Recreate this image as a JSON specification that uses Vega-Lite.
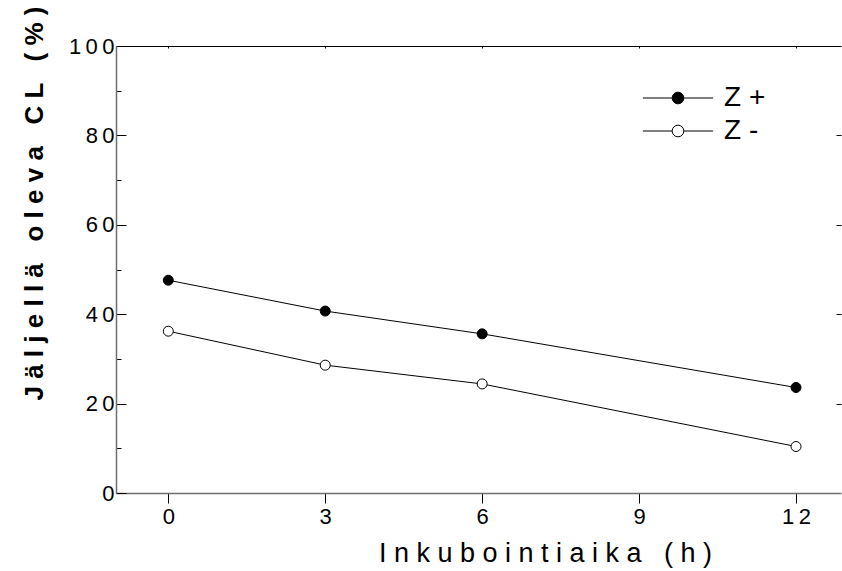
{
  "$schema": "https://vega.github.io/schema/vega-lite/v6.json",
  "width": 725,
  "height": 447,
  "autosize": "none",
  "padding": {"left": 116, "top": 46, "right": 1, "bottom": 78},
  "background": "white",
  "config": {"view": {"stroke": null}, "font": "Liberation Sans"},
  "data": {"values": [
    {"series": "Z +", "t": 0, "cl": 47.6},
    {"series": "Z +", "t": 3, "cl": 40.7},
    {"series": "Z +", "t": 6, "cl": 35.6},
    {"series": "Z +", "t": 12, "cl": 23.6},
    {"series": "Z -", "t": 0, "cl": 36.2},
    {"series": "Z -", "t": 3, "cl": 28.6},
    {"series": "Z -", "t": 6, "cl": 24.4},
    {"series": "Z -", "t": 12, "cl": 10.4}
  ]},
  "layer": [
    {
      "mark": {"type": "line", "color": "black", "strokeWidth": 1},
      "encoding": {
        "x": {"field": "t", "type": "quantitative",
          "scale": {"domain": [-1, 12.86], "nice": false, "zero": false},
          "axis": {"orient": "bottom", "values": [0, 3, 6, 9, 12], "grid": false,
            "title": "I n k u b o i n t i a i k a \u00a0 ( h )",
            "titleFontSize": 27, "titleFontWeight": "normal", "titleColor": "black",
            "titleX": 429, "titleY": 68, "titleAlign": "center", "titleBaseline": "alphabetic", "titleAngle": 0,
            "labelFontSize": 22, "labelColor": "black", "labelPadding": 3,
            "labelExpr": "replace(datum.label, /(\\d)(?=\\d)/g, '$1\u2009')",
            "labelFlush": false, "labelOverlap": false,
            "tickSize": 10, "tickColor": "black", "tickWidth": 1,
            "domainColor": "#6e6e6e", "domainWidth": 1.5}},
        "y": {"field": "cl", "type": "quantitative",
          "scale": {"domain": [0, 100], "nice": false},
          "axis": {"orient": "left", "values": [0, 10, 20, 30, 40, 50, 60, 70, 80, 90, 100], "grid": false,
            "title": "J ä l j e l l ä \u00a0 o l e v a \u00a0 C L \u00a0 ( % )",
            "titleFontSize": 26, "titleFontWeight": "bold", "titleColor": "black",
            "titleX": -74, "titleY": 157, "titleAlign": "center", "titleBaseline": "alphabetic", "titleAngle": 270,
            "labelFontSize": 22, "labelColor": "black", "labelPadding": 12,
            "labelExpr": "datum.value % 20 === 0 ? replace(datum.label, /(\\d)(?=\\d)/g, '$1\u2009') : ''",
            "labelOverlap": false, "labelFlush": false,
            "tickSize": {"condition": {"test": "datum.value % 20 === 0", "value": -10}, "value": -5},
            "tickColor": "black", "tickWidth": 1,
            "domainColor": "#6e6e6e", "domainWidth": 1.5}},
        "detail": {"field": "series"}
      }
    },
    {
      "mark": {"type": "point", "filled": true, "shape": "circle", "size": 100, "stroke": "black", "strokeWidth": 1, "opacity": 1},
      "encoding": {
        "x": {"field": "t", "type": "quantitative",
          "scale": {"domain": [-1, 12.86], "nice": false, "zero": false},
          "axis": {"orient": "top", "values": [0, 3, 6, 9, 12], "grid": false, "title": null,
            "labels": false, "tickSize": -2, "tickColor": "black", "domainColor": "black", "domainWidth": 1}},
        "y": {"field": "cl", "type": "quantitative",
          "scale": {"domain": [0, 100], "nice": false},
          "axis": {"orient": "right", "values": [20, 40, 60, 80], "grid": false, "title": null,
            "labels": false, "domain": false, "tickSize": -5, "tickColor": "black"}},
        "fill": {"field": "series", "type": "nominal",
          "scale": {"domain": ["Z +", "Z -"], "range": ["black", "white"]},
          "legend": {"orient": "none", "legendX": 548, "legendY": 38, "title": null, "padding": 0,
            "symbolType": "M-6,0H-1M1,0H6M1,0A1,1,0,1,1,-1,0A1,1,0,1,1,1,0Z",
            "symbolSize": 137, "symbolStrokeColor": "black", "symbolStrokeWidth": 1, "symbolOpacity": 1,
            "labelFontSize": 28, "labelColor": "black", "labelOffset": 32, "rowPadding": 5,
            "labelFont": "Liberation Sans"}}
      }
    }
  ],
  "resolve": {"scale": {"x": "independent", "y": "independent"}}
}
